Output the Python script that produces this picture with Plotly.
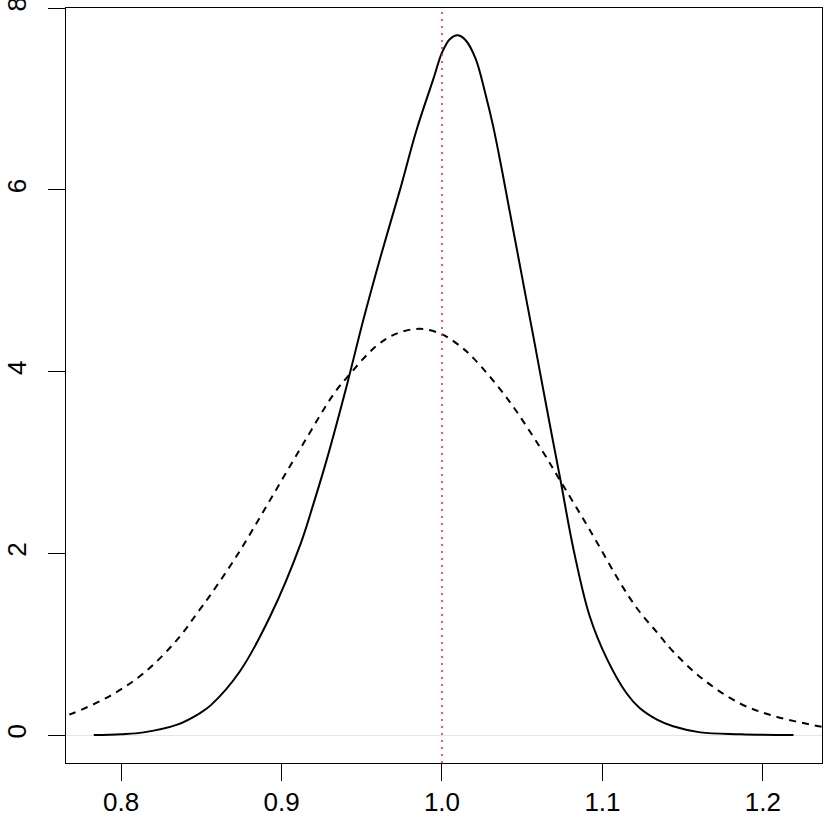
import plotly.graph_objects as go

# Solid curve (estimated density)
solid_x = [0.783, 0.800, 0.814, 0.835, 0.849, 0.856, 0.874, 0.893, 0.912, 0.920,
           0.928, 0.941, 0.951, 0.962, 0.974, 0.984, 0.995, 1.000, 1.005, 1.010,
           1.015, 1.021, 1.027, 1.032, 1.037, 1.042, 1.048, 1.053, 1.057, 1.061,
           1.069, 1.074, 1.082, 1.092, 1.103, 1.115, 1.123, 1.134, 1.144, 1.161,
           1.186, 1.219]
solid_y = [0.0, 0.01, 0.03, 0.115, 0.24, 0.33, 0.70, 1.31, 2.11, 2.55,
           3.02, 3.87, 4.57, 5.28, 6.01, 6.65, 7.24, 7.51, 7.66, 7.70,
           7.64, 7.44, 7.06, 6.69, 6.25, 5.78, 5.22, 4.75, 4.38, 4.00,
           3.25, 2.79, 2.04, 1.31, 0.83, 0.46, 0.30, 0.17, 0.097, 0.03,
           0.01, 0.0]

# Dashed curve (reference density)
dashed_x = [0.760, 0.769, 0.793, 0.814, 0.835, 0.849, 0.856, 0.872, 0.891, 0.912,
            0.932, 0.941, 0.959, 0.972, 0.986, 1.000, 1.012, 1.020, 1.040, 1.061,
            1.074, 1.092, 1.113, 1.123, 1.134, 1.144, 1.163, 1.186, 1.207, 1.237,
            1.245]
dashed_y = [0.18, 0.233, 0.43, 0.68, 1.05, 1.38, 1.55, 1.97, 2.53, 3.16,
            3.74, 3.94, 4.28, 4.42, 4.47, 4.41, 4.27, 4.14, 3.72, 3.17,
            2.79, 2.26, 1.62, 1.36, 1.13, 0.92, 0.61, 0.345, 0.21, 0.09,
            0.07]

ref_value = 1.0
x_ticks = [0.8, 0.9, 1.0, 1.1, 1.2]
x_tick_labels = ["0.8", "0.9", "1.0", "1.1", "1.2"]
y_ticks = [0, 2, 4, 6, 8]
y_tick_labels = ["0", "2", "4", "6", "8"]

fig = go.Figure()
fig.add_trace(go.Scatter(x=dashed_x, y=dashed_y, mode="lines",
                         line=dict(color="black", width=2, dash="7px,6px", shape="spline"),
                         showlegend=False, hoverinfo="skip"))
fig.add_trace(go.Scatter(x=solid_x, y=solid_y, mode="lines",
                         line=dict(color="black", width=2, shape="spline"),
                         showlegend=False, hoverinfo="skip"))

fig.add_shape(type="line", xref="x", yref="paper", x0=ref_value, x1=ref_value,
              y0=0, y1=1, line=dict(color="#ff2020", width=1.5, dash="2px,5px"))

font = dict(family="Liberation Sans, Arial, Helvetica, sans-serif", size=26, color="black")

fig.update_layout(
    width=830, height=830,
    margin=dict(l=66, r=8, t=8, b=67),
    paper_bgcolor="white", plot_bgcolor="white",
    font=font,
    xaxis=dict(range=[0.7657, 1.2368], tickvals=x_ticks, ticktext=x_tick_labels,
               showgrid=False, zeroline=False, showline=True, mirror=True,
               linecolor="black", linewidth=1.3, ticks="outside", ticklen=17,
               tickwidth=1.3, tickcolor="black", tickfont=font,
               automargin=False, ticklabelstandoff=-1, ticklabeloverflow="allow"),
    yaxis=dict(range=[-0.307, 8.0005], tickvals=y_ticks, ticktext=y_tick_labels,
               showgrid=False, zeroline=True, zerolinecolor="#e6e6e6", zerolinewidth=1,
               showline=True, mirror=True, linecolor="black", linewidth=1.3,
               ticks="outside", ticklen=17, tickwidth=1.3, tickcolor="black",
               tickangle=-90, tickfont=font, automargin=False, ticklabelstandoff=11,
               ticklabeloverflow="allow"),
)

# remove the default page margin so the figure fills the window exactly
fig.write_html("out.html", config={"displayModeBar": False},
               post_script="document.body.style.margin='0';")
